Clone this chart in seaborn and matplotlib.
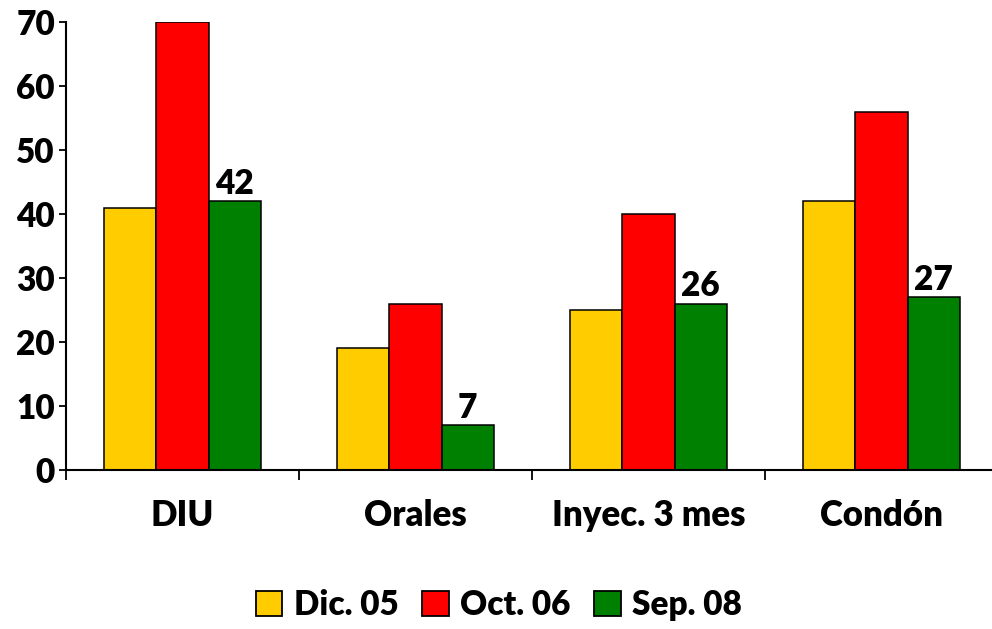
import pandas as pd
import matplotlib.pyplot as plt
import seaborn as sns
import matplotlib.patches as mpatches
from matplotlib.ticker import FixedLocator

# Data
categories = ['DIU', 'Orales', 'Inyec. 3 mes', 'Condón']
periods = ['Dic. 05', 'Oct. 06', 'Sep. 08']
dic05 = [41, 19, 25, 42]
oct06 = [70, 26, 40, 56]
sep08 = [42, 7, 26, 27]

COLORS = ['#FFCC00', '#FF0000', '#008000']
FW = 'heavy'

sns.set_theme(style="white")
plt.rcParams['font.family'] = ['Lato', 'DejaVu Sans']
plt.rcParams['font.weight'] = FW
plt.rcParams['text.color'] = 'black'

df = pd.DataFrame({
    'Method': categories * 3,
    'Period': [p for p in periods for _ in categories],
    'Value': dic05 + oct06 + sep08,
})

fig = plt.figure(figsize=(9.92, 6.29), dpi=100)
ax = fig.add_axes([66 / 992, 159 / 629, 932 / 992, 448 / 629])

sns.barplot(
    data=df, x='Method', y='Value', hue='Period',
    order=categories, hue_order=periods, palette=COLORS,
    width=0.67, edgecolor='black', linewidth=1.1,
    saturation=1, errorbar=None, legend=False, ax=ax
)

# value labels only for the last series
ax.bar_label(ax.containers[2], fontsize=24, fontweight=FW, padding=1, color='black')

ax.set_ylim(0, 70)
ax.set_xlim(-0.5, 3.5)
ax.set_yticks(range(0, 71, 10))
ax.set_xlabel('')
ax.set_ylabel('')

for side in ['top', 'right']:
    ax.spines[side].set_visible(False)
for side in ['left', 'bottom']:
    ax.spines[side].set_color('black')
    ax.spines[side].set_linewidth(1.5)

ax.tick_params(axis='y', direction='out', length=5, width=1.3, color='black',
               labelsize=24, pad=3, left=True, labelcolor='black')
ax.tick_params(axis='x', which='major', length=0, labelsize=25, pad=21,
               labelcolor='black')
ax.xaxis.set_minor_locator(FixedLocator([-0.5, 0.5, 1.5, 2.5]))
ax.tick_params(axis='x', which='minor', direction='out', length=7, width=1.3,
               color='black', bottom=True)
for lbl in ax.get_xticklabels() + ax.get_yticklabels():
    lbl.set_fontweight(FW)

handles = [mpatches.Patch(facecolor=c, edgecolor='black', linewidth=1.3, label=p)
           for c, p in zip(COLORS, periods)]
fig.legend(handles=handles, loc='center', bbox_to_anchor=(0.503, 0.038),
           ncol=3, frameon=False, prop={'size': 24, 'weight': FW},
           handlelength=0.8, handleheight=0.8, handletextpad=0.35,
           columnspacing=0.7)

fig.savefig('out.png', dpi=100)
